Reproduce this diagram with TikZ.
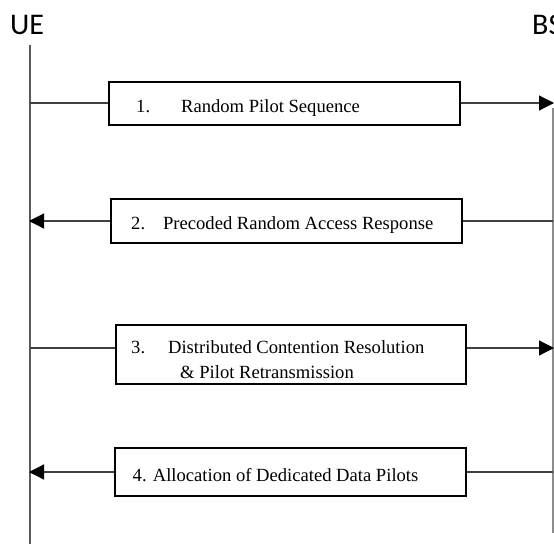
\documentclass[tikz,border=0pt]{standalone}
\usepackage{fontspec}
\setmainfont{Liberation Serif}
\newfontfamily\labelfont{Carlito}
\usetikzlibrary{arrows.meta}
\begin{document}
\begin{tikzpicture}[x=1pt,y=-1pt,
  life/.style={draw=black!65, line width=1.6pt},
  msg/.style={draw=black!75, line width=1.2pt},
  tip/.style={-{Triangle[length=15pt,width=15pt,color=black]}},
  msgbox/.style={draw=black, line width=2.4pt, inner sep=0pt, fill=white},
  msgtext/.style={anchor=base west, inner sep=0pt, font=\fontsize{18.6}{25}\selectfont},
  actor/.style={font=\labelfont\fontsize{30}{30}\selectfont, inner sep=0pt}]
\useasboundingbox (0,0) rectangle (554,544);
% actors
\node[actor] (ue) at (27,25) {UE};
\node[actor, anchor=west] (bs) at (532,25) {BS};
% lifelines
\coordinate (ueTop) at (30,45);
\coordinate (ueBot) at (30,544);
\coordinate (bsTop) at (553,108);
\coordinate (bsBot) at (553,533);
\draw[life] (ueTop) -- (ueBot);
\draw[life, draw=black!45] (bsTop) -- (bsBot);
% message points
\coordinate (ue1) at (30,103);   \coordinate (bs1) at (554,103);
\coordinate (ue2) at (29,221);   \coordinate (bs2) at (553,221);
\coordinate (ue3) at (30,348);   \coordinate (bs3) at (554,348);
\coordinate (ue4) at (29,472);   \coordinate (bs4) at (553,472);
% boxes
\node[msgbox, minimum width=351pt, minimum height=43pt] (b1) at (284.5,103.5) {};
\node[msgbox, minimum width=351pt, minimum height=44pt] (b2) at (286.5,221) {};
\node[msgbox, minimum width=350pt, minimum height=59pt] (b3) at (291,354.5) {};
\node[msgbox, minimum width=351pt, minimum height=48pt] (b4) at (290.5,472) {};
% texts
\node[msgtext] (t1) at (136,112) {1.\hspace{31pt}Random Pilot Sequence};
\node[msgtext] (t2) at (131,229) {2.\hspace{18pt}Precoded Random Access Response};
\node[msgtext] (t3a) at (131,353) {3.\hspace{23pt}Distributed Contention Resolution};
\node[msgtext] (t3b) at (180,378) {\& Pilot Retransmission};
\node[msgtext] (t4) at (132.5,481) {4. Allocation of Dedicated Data Pilots};
% connectors
\draw[msg] (ue1) -- (ue1 -| b1.west);
\draw[msg, tip] (ue1 -| b1.east) -- (bs1);
\draw[msg, tip] (ue2 -| b2.west) -- (ue2);
\draw[msg] (bs2) -- (bs2 -| b2.east);
\draw[msg] (ue3) -- (ue3 -| b3.west);
\draw[msg, tip] (ue3 -| b3.east) -- (bs3);
\draw[msg, tip] (ue4 -| b4.west) -- (ue4);
\draw[msg] (bs4) -- (bs4 -| b4.east);
\end{tikzpicture}
\end{document}
